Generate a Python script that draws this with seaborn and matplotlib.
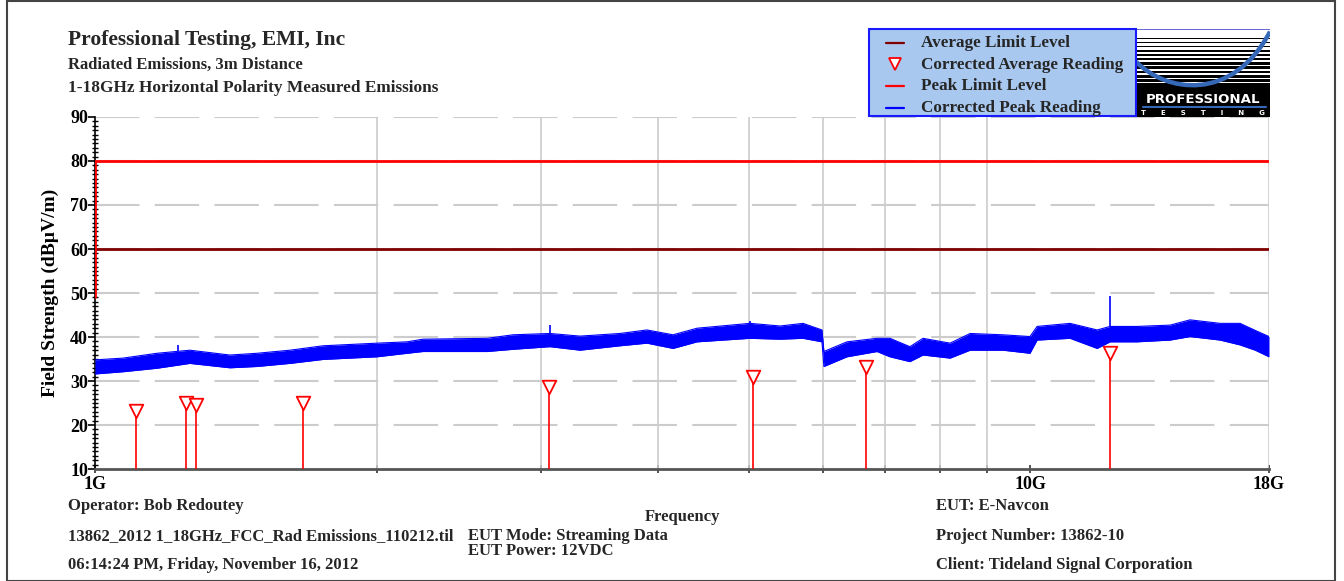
import numpy as np
import pandas as pd
import matplotlib
matplotlib.use("Agg")
import matplotlib.pyplot as plt
import seaborn as sns
from matplotlib.patches import Rectangle, PathPatch
from matplotlib.path import Path
from matplotlib.lines import Line2D
from matplotlib.ticker import FixedLocator, NullFormatter, MultipleLocator

# ---------------- data ----------------
trace_freq_ghz = [1.0, 1.071, 1.165, 1.263, 1.394, 1.490, 1.616, 1.753, 2.002, 2.156,
                  2.242, 2.625, 2.798, 3.065, 3.301, 3.641, 3.892, 4.150, 4.403, 5.015,
                  5.401, 5.715, 5.988, 6.017, 6.368, 6.857, 7.079, 7.436, 7.679, 8.209,
                  8.623, 9.350, 9.993, 10.17, 11.03, 11.79, 12.17, 13.00, 14.11, 14.82,
                  15.96, 16.76, 17.40, 18.0]
trace_low_db = [31.6, 32.1, 32.9, 34.0, 33.0, 33.3, 34.0, 34.9, 35.5, 36.3,
                36.7, 36.7, 37.2, 37.8, 37.0, 38.0, 38.6, 37.4, 38.9, 39.7,
                39.5, 39.7, 38.9, 33.3, 35.5, 36.7, 35.5, 34.4, 35.9, 35.2,
                37.0, 37.0, 36.3, 39.3, 39.7, 37.4, 38.9, 38.9, 39.3, 40.1,
                39.3, 38.2, 37.0, 35.5]
trace_high_db = [34.8, 35.2, 36.3, 37.0, 35.9, 36.3, 37.0, 38.0, 38.6, 38.9,
                 39.5, 39.7, 40.5, 40.8, 40.2, 40.8, 41.6, 40.5, 42.0, 43.1,
                 42.5, 43.1, 41.6, 36.7, 38.9, 39.7, 39.7, 37.8, 39.7, 38.6,
                 40.8, 40.5, 40.1, 42.4, 43.1, 41.6, 42.4, 42.4, 42.7, 43.9,
                 43.1, 43.1, 41.5, 40.1]
spike_freq_ghz = [1.227, 3.065, 5.015, 12.17]
spike_peak_db = [38.2, 42.7, 43.6, 49.3]

avg_freq_ghz = [1.106, 1.251, 1.282, 1.669, 3.058, 5.053, 6.674, 12.17]
avg_level_db = [23.2, 25.0, 24.5, 25.0, 28.6, 30.9, 33.2, 36.4]

peak_limit_freq = [1.0, 1.0, 18.0]
peak_limit_db = [49.0, 80.0, 80.0]
avg_limit_freq = [1.0, 18.0]
avg_limit_db = [60.0, 60.0]

legend_labels = ["Average Limit Level", "Corrected Average Reading",
                 "Peak Limit Level", "Corrected Peak Reading"]
x_tick_vals = [1, 10, 18]
x_tick_labels = ["1G", "10G", "18G"]
x_minor_vals = [2, 3, 4, 5, 6, 7, 8, 9]

title_lines = ["Professional Testing, EMI, Inc",
               "Radiated Emissions, 3m Distance",
               "1-18GHz Horizontal Polarity Measured Emissions"]
footer_left = ["Operator: Bob Redoutey",
               "13862_2012 1_18GHz_FCC_Rad Emissions_110212.til",
               "06:14:24 PM, Friday, November 16, 2012"]
footer_mid = ["EUT Mode: Streaming Data", "EUT Power: 12VDC"]
footer_right = ["EUT: E-Navcon", "Project Number: 13862-10",
                "Client: Tideland Signal Corporation"]

# ---------------- style ----------------
sns.set_theme(style="white")
plt.rcParams['font.family'] = ['Liberation Serif', 'DejaVu Serif']
plt.rcParams['font.weight'] = 'bold'
plt.rcParams['lines.scale_dashes'] = False

W, H = 1344, 581
fig = plt.figure(figsize=(W / 100, H / 100), dpi=100)
fig.patch.set_facecolor('white')


def fx(x):
    return x / W


def fy(y):
    return 1 - y / H


ax = fig.add_axes([fx(95), fy(469), fx(1269) - fx(95), fy(117) - fy(469)])
ax.set_facecolor('white')

DRED = '#800000'
RED = '#ff0000'
BLUE = '#0000ff'

df_trace = pd.DataFrame({"f": trace_freq_ghz, "lo": trace_low_db, "hi": trace_high_db})
ax.fill_between(df_trace["f"], df_trace["lo"], df_trace["hi"], color=BLUE, lw=0, zorder=3)
sns.lineplot(data=df_trace, x="f", y="lo", ax=ax, color=BLUE, lw=0.8, estimator=None, sort=False, zorder=3)
sns.lineplot(data=df_trace, x="f", y="hi", ax=ax, color=BLUE, lw=0.8, estimator=None, sort=False, zorder=3)
spike_base = np.interp(spike_freq_ghz, trace_freq_ghz, trace_high_db)
ax.vlines(spike_freq_ghz, spike_base, spike_peak_db, color=BLUE, lw=1.2, zorder=3)

sns.lineplot(x=avg_limit_freq, y=avg_limit_db, ax=ax, color=DRED, lw=2, estimator=None, sort=False, zorder=4)
sns.lineplot(x=peak_limit_freq, y=peak_limit_db, ax=ax, color=RED, lw=2, estimator=None, sort=False, zorder=4)

ax.vlines(avg_freq_ghz, 10, avg_level_db, color=RED, lw=1.2, zorder=5)
sns.scatterplot(x=avg_freq_ghz, y=avg_level_db, ax=ax, marker='v', s=95,
                color='white', edgecolor=RED, linewidth=1.3, zorder=6)

ax.set_xscale('log')
ax.set_xlim(1, 18)
ax.set_ylim(10, 90)
ax.xaxis.set_major_locator(FixedLocator(x_tick_vals))
ax.set_xticklabels(x_tick_labels)
ax.xaxis.set_minor_locator(FixedLocator(x_minor_vals))
ax.xaxis.set_minor_formatter(NullFormatter())
ax.yaxis.set_major_locator(MultipleLocator(10))
ax.yaxis.set_minor_locator(MultipleLocator(1))

for sp in ['top', 'right']:
    ax.spines[sp].set_visible(False)
ax.spines['left'].set_color('black')
ax.spines['left'].set_linewidth(1.2)
ax.spines['bottom'].set_color('#555555')
ax.spines['bottom'].set_linewidth(2)

ax.tick_params(axis='y', which='major', direction='out', length=5, width=1.2,
               color='black', labelsize=13, pad=0, left=True)
ax.tick_params(axis='y', which='minor', direction='inout', length=4, width=1,
               color='black', left=True)
ax.tick_params(axis='x', which='major', direction='inout', length=6, width=1.2,
               color='#333333', labelsize=13, pad=2, bottom=True)
ax.tick_params(axis='x', which='minor', direction='inout', length=6, width=1.2,
               color='#333333', bottom=True)
for lbl in ax.get_xticklabels() + ax.get_yticklabels():
    lbl.set_fontweight('bold')
    lbl.set_color('black')

# grid
for yv in range(20, 91, 10):
    ax.axhline(yv, color='#cccccc', lw=1.5, dashes=(32, 11), zorder=1)
for xv in x_minor_vals + [18]:
    ax.axvline(xv, color='#cccccc', lw=1.2, zorder=1)

ax.set_xlabel("")
ax.set_ylabel("Field Strength (dBµV/m)", fontsize=14, fontweight='bold', color='black')
ax.yaxis.set_label_coords((59 - 95) / (1269 - 95), 0.5)

# ---------------- texts ----------------
fig.text(fx(68), fy(40), title_lines[0], fontsize=15.5, fontweight='bold', va='center', ha='left')
fig.text(fx(68), fy(65), title_lines[1], fontsize=12, fontweight='bold', va='center', ha='left')
fig.text(fx(68), fy(88), title_lines[2], fontsize=12.4, fontweight='bold', va='center', ha='left')

fig.text(fx(683), fy(517), "Frequency", fontsize=12, fontweight='bold', va='center', ha='center')
for txt, yy in zip(footer_left, [506, 536, 565]):
    fig.text(fx(68), fy(yy), txt, fontsize=12, fontweight='bold', va='center', ha='left')
for txt, yy in zip(footer_mid, [536, 551]):
    fig.text(fx(468), fy(yy), txt, fontsize=12, fontweight='bold', va='center', ha='left')
for txt, yy in zip(footer_right, [506, 536, 565]):
    fig.text(fx(936), fy(yy), txt, fontsize=12, fontweight='bold', va='center', ha='left')

# ---------------- legend box ----------------
fig.add_artist(Rectangle((fx(869), fy(116)), fx(1136) - fx(869), fy(29) - fy(116),
                         transform=fig.transFigure, facecolor='#a8c8f0',
                         edgecolor='#1a1aff', lw=1.5, zorder=10))
rows = [43, 65, 86, 108]
handle_colors = [DRED, None, RED, BLUE]
for lab, yy, col in zip(legend_labels, rows, handle_colors):
    if col is None:
        fig.add_artist(Line2D([fx(895)], [fy(yy - 1)], transform=fig.transFigure, marker='v',
                              markersize=8, markerfacecolor='white', markeredgecolor=RED,
                              markeredgewidth=1.3, linestyle='none', zorder=11))
    else:
        fig.add_artist(Line2D([fx(886), fx(904)], [fy(yy), fy(yy)], transform=fig.transFigure,
                              color=col, lw=1.6, zorder=11))
    fig.text(fx(921), fy(yy), lab, fontsize=12.3, fontweight='bold', va='center', ha='left',
             zorder=12)

# ---------------- logo ----------------
lax = fig.add_axes([fx(1136), fy(117), fx(1270) - fx(1136), fy(29) - fy(117)])
lax.set_xlim(0, 1)
lax.set_ylim(0, 1)
lax.axis('off')
lax.add_patch(Rectangle((0, 0), 1, 1, facecolor='black', edgecolor='none'))
n_str = 13
period = 0.64 / n_str
for i in range(n_str):
    top = 0.99 - i * period
    th = period * (0.88 - 0.055 * i)
    lax.add_patch(Rectangle((0, top - th), 1, th, facecolor='white', edgecolor='none'))
arc = Path([(0.0, 0.63), (0.22, 0.28), (0.72, 0.16), (1.0, 0.97)],
           [Path.MOVETO, Path.CURVE4, Path.CURVE4, Path.CURVE4])
lax.add_patch(PathPatch(arc, facecolor='none', edgecolor='#3668b8', lw=3.2))
lax.text(0.5, 0.2, "PROFESSIONAL", color='white', fontsize=9.6, fontweight='bold',
         family=['DejaVu Sans'], ha='center', va='center')
lax.plot([0.05, 0.97], [0.11, 0.11], color='#3668b8', lw=1.5)
lax.text(0.5, 0.045, "T      E      S      T      I      N      G", color='white',
         fontsize=5, fontweight='bold', family=['DejaVu Sans'], ha='center', va='center')
lax.plot([0, 1], [0.995, 0.995], color='#8080ff', lw=1.2)

# figure border
fig.add_artist(Rectangle((fx(6.5), fy(580.5)), fx(1334.5) - fx(6.5), fy(0.5) - fy(580.5),
                         transform=fig.transFigure, facecolor='none', edgecolor='#444444',
                         lw=1.5, zorder=20))

fig.savefig("out.png", dpi=100)
